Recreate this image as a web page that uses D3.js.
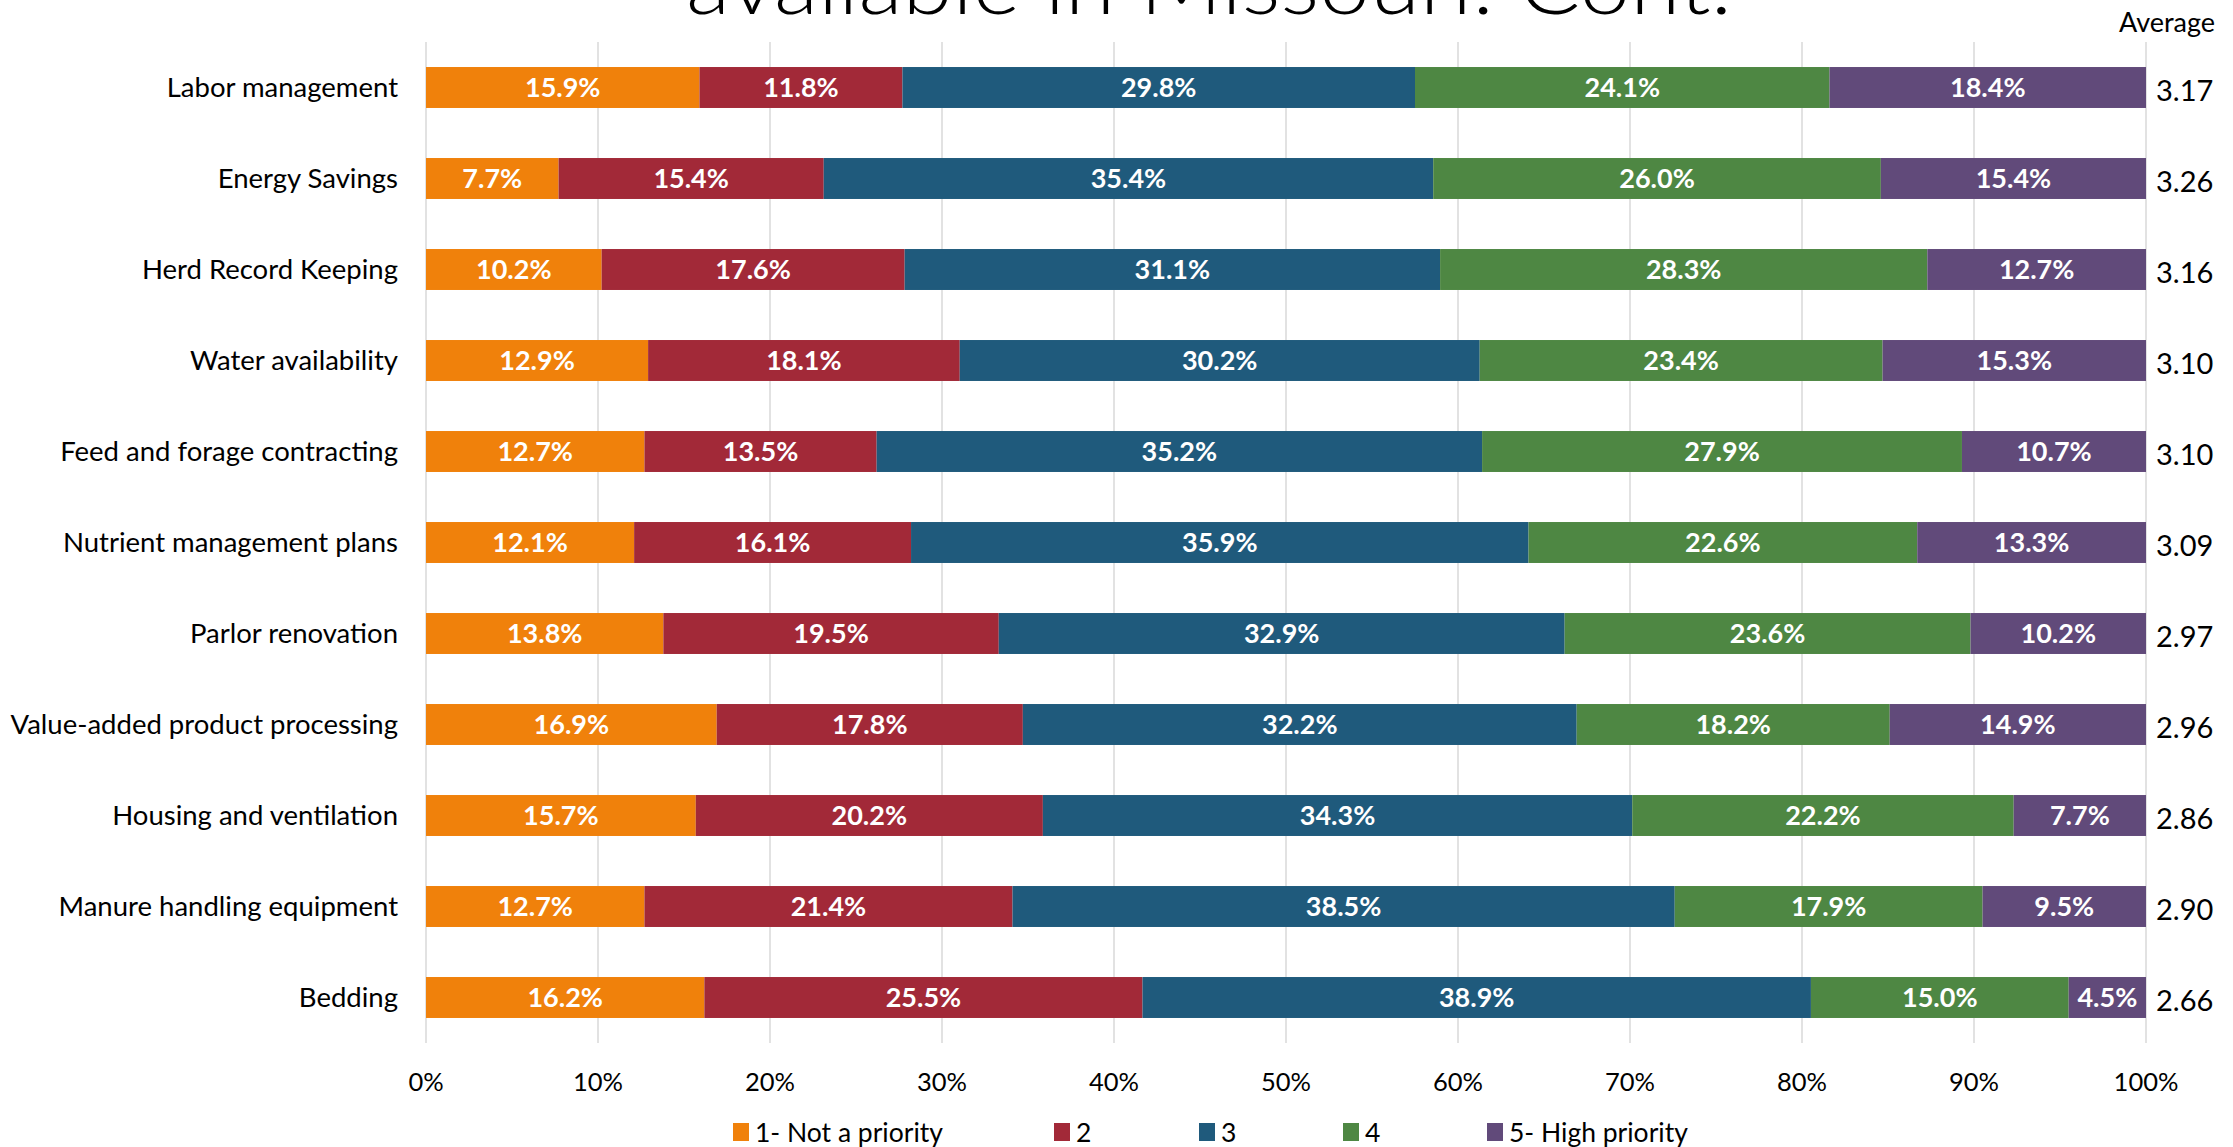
<!DOCTYPE html>
<html>
<head>
<meta charset="utf-8">
<script src="https://cdn.jsdelivr.net/npm/d3@7"></script>
<style>
  body { margin: 0; background: #fff; }
  text { font-family: Lato, "Open Sans", sans-serif; }
</style>
</head>
<body>
<svg id="chart"></svg>
<script>
// categories top to bottom
const categories = [
    "Labor management", "Energy Savings", "Herd Record Keeping", "Water availability",
    "Feed and forage contracting", "Nutrient management plans", "Parlor renovation",
    "Value-added product processing", "Housing and ventilation",
    "Manure handling equipment", "Bedding"
];
const seriesNames = ["1- Not a priority", "2", "3", "4", "5- High priority"];
// percent per series, same order as categories
const notPriority = [15.9, 7.7, 10.2, 12.9, 12.7, 12.1, 13.8, 16.9, 15.7, 12.7, 16.2];
const level2 = [11.8, 15.4, 17.6, 18.1, 13.5, 16.1, 19.5, 17.8, 20.2, 21.4, 25.5];
const level3 = [29.8, 35.4, 31.1, 30.2, 35.2, 35.9, 32.9, 32.2, 34.3, 38.5, 38.9];
const level4 = [24.1, 26.0, 28.3, 23.4, 27.9, 22.6, 23.6, 18.2, 22.2, 17.9, 15.0];
const highPriority = [18.4, 15.4, 12.7, 15.3, 10.7, 13.3, 10.2, 14.9, 7.7, 9.5, 4.5];
const averages = ["3.17", "3.26", "3.16", "3.10", "3.10", "3.09", "2.97", "2.96", "2.86", "2.90", "2.66"];
const xTicks = [0, 10, 20, 30, 40, 50, 60, 70, 80, 90, 100];

const COLORS = ["#f0810b", "#a22938", "#1f5a7c", "#4e8743", "#614a7a"];

const W = 2233, H = 1147;
const plot = { left: 426, right: 2146, top: 42, bottom: 1043 };

const svg = d3.select("#chart").attr("width", W).attr("height", H);

const x = d3.scaleLinear().domain([0, 1]).range([plot.left, plot.right]);
const y = d3.scaleBand().domain(categories).range([plot.top, plot.bottom])
    .paddingInner(0.55).paddingOuter(0.275);

// build rows for stacking (100% stacked, like the source)
const allSeries = [notPriority, level2, level3, level4, highPriority];
const rows = categories.map((c, i) => {
    const r = { cat: c };
    seriesNames.forEach((s, k) => r[s] = allSeries[k][i]);
    return r;
});
const stacked = d3.stack().keys(seriesNames).offset(d3.stackOffsetExpand)(rows);

// title (second line, cut at top of the slide)
svg.append("text")
    .attr("x", 686).attr("y", 14)
    .attr("textLength", 1046).attr("lengthAdjust", "spacingAndGlyphs")
    .style("font-size", "82px").style("font-weight", 300)
    .attr("fill", "#000")
    .text("available in Missouri: Cont.");

// gridlines
svg.append("g").selectAll("line")
    .data(xTicks)
    .join("line")
    .attr("x1", d => x(d / 100)).attr("x2", d => x(d / 100))
    .attr("y1", plot.top).attr("y2", plot.bottom)
    .attr("stroke", "#d9d9d9").attr("stroke-width", 1.5);

// bars
const groups = svg.append("g").selectAll("g")
    .data(stacked)
    .join("g")
    .attr("fill", (_d, i) => COLORS[i]);

groups.selectAll("rect")
    .data(d => d)
    .join("rect")
    .attr("x", d => x(d[0]))
    .attr("y", d => y(d.data.cat))
    .attr("width", d => x(d[1]) - x(d[0]))
    .attr("height", y.bandwidth());

groups.each(function(s) {
    d3.select(this).selectAll("text")
        .data(s)
        .join("text")
        .attr("x", d => (x(d[0]) + x(d[1])) / 2)
        .attr("y", d => y(d.data.cat) + y.bandwidth() / 2)
        .attr("dy", "0.36em")
        .attr("text-anchor", "middle")
        .attr("fill", "#fff")
        .style("font-size", "27px").style("font-weight", 700)
        .text(d => d.data[s.key].toFixed(1) + "%");
});

// category labels
svg.append("g").selectAll("text")
    .data(categories)
    .join("text")
    .attr("x", 398)
    .attr("y", d => y(d) + y.bandwidth() / 2)
    .attr("dy", "0.36em")
    .attr("text-anchor", "end")
    .style("font-size", "27.5px")
    .attr("fill", "#000")
    .text(d => d);

// averages
svg.append("text")
    .attr("x", 2119).attr("y", 22).attr("dy", "0.36em")
    .style("font-size", "27px").attr("fill", "#000")
    .text("Average");
svg.append("g").selectAll("text")
    .data(averages)
    .join("text")
    .attr("x", 2156)
    .attr("y", (_d, i) => y(categories[i]) + y.bandwidth() / 2 + 3)
    .attr("dy", "0.36em")
    .style("font-size", "29px")
    .attr("fill", "#000")
    .text(d => d);

// x axis labels
svg.append("g").selectAll("text")
    .data(xTicks)
    .join("text")
    .attr("x", d => x(d / 100))
    .attr("y", 1082).attr("dy", "0.36em")
    .attr("text-anchor", "middle")
    .style("font-size", "25.5px").attr("fill", "#000")
    .text(d => d + "%");

// legend
const legendX = [733, 1054, 1199, 1343, 1487];
const legend = svg.append("g").selectAll("g")
    .data(seriesNames)
    .join("g")
    .attr("transform", (_d, i) => `translate(${legendX[i]}, 1132)`);
legend.append("rect")
    .attr("x", 0).attr("y", -9).attr("width", 16).attr("height", 18)
    .attr("fill", (_d, i) => COLORS[i]);
legend.append("text")
    .attr("x", 22).attr("dy", "0.36em")
    .style("font-size", "26.5px").attr("fill", "#000")
    .text(d => d);
</script>
</body>
</html>
